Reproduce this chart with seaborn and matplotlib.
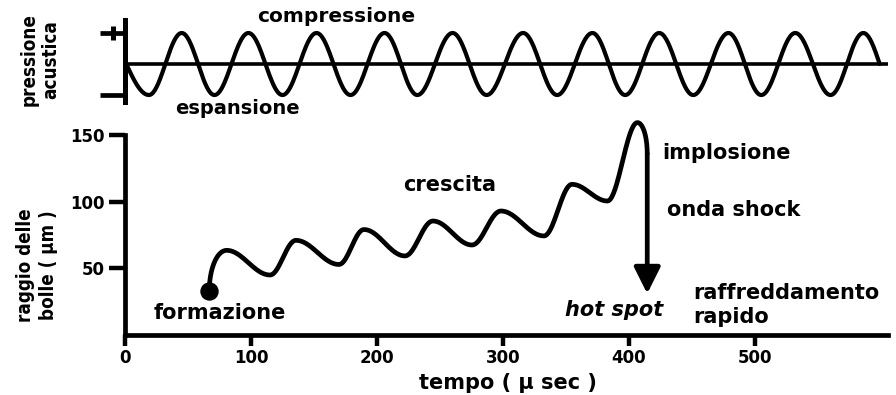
import numpy as np
import pandas as pd
import matplotlib
matplotlib.use("Agg")
import matplotlib.pyplot as plt
import seaborn as sns
from matplotlib import font_manager

# ---------------- data ----------------
# acoustic pressure: times (µs) of the compression peaks and expansion troughs
pressure_start_t = 1
pressure_end_t = 599
pressure_peak_t = [45, 98, 152, 206, 260, 316, 371, 424, 479, 532, 586]
pressure_trough_t = [19, 71, 125, 179, 232, 287, 343, 397, 451, 505, 560]
pressure_amp = 1.0

# bubble radius: turning points of the curve (time µs, radius µm)
radius_t = [66.9, 80.7, 115.1, 135.7, 169.8, 189.7, 222.2, 244.4, 275.4, 298.4,
            332.5, 354.8, 382.9, 406.7, 414.5]
radius_um = [33.0, 63.5, 45.0, 71.0, 52.9, 79.1, 59.3, 85.5, 67.5, 93.0,
             74.3, 113.0, 100.5, 159.3, 136.0]
collapse_end_um = 31.0          # tip of the implosion arrow

x_ticks = [0, 100, 200, 300, 400, 500]
y_ticks = [50, 100, 150]
x_label = "tempo ( µ sec )"
y_label = "raggio delle\nbolle ( µm )"
top_label = "pressione\nacustica"


# ---------------- smooth rendering of the key points ----------------
def smooth_path(ts, vs, kinds, n=40):
    """Join successive key points with smooth (cosine) curve pieces."""
    out_t, out_v = [], []
    s = np.linspace(0, 1, n)
    for i in range(len(ts) - 1):
        t0, t1, v0, v1 = ts[i], ts[i + 1], vs[i], vs[i + 1]
        k = kinds[i]
        if k == "ext":        # extremum -> extremum
            ft, fv = s, (1 - np.cos(np.pi * s)) / 2
        elif k == "zero_in":  # zero crossing -> extremum
            ft, fv = s, np.sin(np.pi * s / 2)
        elif k == "zero_out":  # extremum -> zero crossing
            ft, fv = s, 1 - np.cos(np.pi * s / 2)
        elif k == "rise":     # vertical start -> horizontal end
            ft, fv = 1 - np.cos(np.pi * s / 2), np.sin(np.pi * s / 2)
        else:                 # "fall": horizontal start -> vertical end
            ft, fv = np.sin(np.pi * s / 2), 1 - np.cos(np.pi * s / 2)
        out_t.extend(t0 + (t1 - t0) * ft)
        out_v.extend(v0 + (v1 - v0) * fv)
    return out_t, out_v


# pressure key points in time order
p_pts = sorted([(t, pressure_amp) for t in pressure_peak_t] +
               [(t, -pressure_amp) for t in pressure_trough_t])
p_t = [pressure_start_t] + [p[0] for p in p_pts] + [pressure_end_t]
p_v = [0.0] + [p[1] for p in p_pts] + [0.0]
p_kinds = ["zero_in"] + ["ext"] * (len(p_pts) - 1) + ["zero_out"]
pt, pv = smooth_path(p_t, p_v, p_kinds)
df_p = pd.DataFrame({"t": pt, "p": pv})

r_kinds = ["rise"] + ["ext"] * (len(radius_t) - 3) + ["fall"]
rt, rv = smooth_path(radius_t, radius_um, r_kinds)
df_r = pd.DataFrame({"t": rt, "r": rv})
df_start = pd.DataFrame({"t": [radius_t[0]], "r": [radius_um[0]]})

# ---------------- figure ----------------
sns.set_theme(style="white")
plt.rcParams["font.family"] = ["DejaVu Sans"]

# condensed bold face for the vertical labels, if one is installed
names = {f.name for f in font_manager.fontManager.ttflist}
if "Liberation Sans Narrow" in names:
    narrow_kw = dict(family=["Liberation Sans Narrow", "DejaVu Sans"], fontsize=15)
elif any(f.name == "DejaVu Sans" and f.stretch == "condensed"
         for f in font_manager.fontManager.ttflist):
    narrow_kw = dict(family=["DejaVu Sans"], fontstretch="condensed", fontsize=13.5)
else:
    narrow_kw = dict(family=["Liberation Sans", "DejaVu Sans"], fontsize=14)

W, H = 896, 395
fig = plt.figure(figsize=(W / 100, H / 100), dpi=100)
fig.patch.set_facecolor("white")

XMAX = 605.6
ax_top = fig.add_axes([125 / W, 1 - 104 / H, 763 / W, 86 / H])
ax = fig.add_axes([125 / W, 1 - 335 / H, 763 / W, 216 / H])

# ---- top panel: acoustic pressure ----
sns.lineplot(data=df_p, x="t", y="p", sort=False, estimator=None,
             color="black", lw=3.0, ax=ax_top)
ax_top.axhline(0, color="black", lw=2.6)
ax_top.set_xlim(0, XMAX)
ax_top.set_ylim(-1.29, 1.484)
for sp in ["top", "right", "bottom"]:
    ax_top.spines[sp].set_visible(False)
ax_top.spines["left"].set_bounds(-1.23, 1.42)
ax_top.spines["left"].set_linewidth(3.6)
ax_top.spines["left"].set_color("black")
ax_top.set_xticks([])
ax_top.set_yticks([-1, 1])
ax_top.set_yticklabels(["", ""])
ax_top.tick_params(axis="y", direction="out", length=18, width=3.4,
                   color="black", left=True)
ax_top.plot([-12 / 763], [1], transform=ax_top.get_yaxis_transform(),
            marker="|", markersize=10, mew=3.6, color="black", clip_on=False)
ax_top.set_xlabel("")
ax_top.set_ylabel("")

# ---- bottom panel: bubble radius ----
sns.lineplot(data=df_r, x="t", y="r", sort=False, estimator=None,
             color="black", lw=3.4, ax=ax)
sns.scatterplot(data=df_start, x="t", y="r", color="black", s=150,
                edgecolor="black", ax=ax, zorder=5)
ax.annotate("", xy=(radius_t[-1], collapse_end_um),
            xytext=(radius_t[-1], radius_um[-1]),
            arrowprops=dict(arrowstyle="-|>,head_length=1.0,head_width=0.5",
                            lw=3.4, color="black", mutation_scale=16,
                            shrinkA=0, shrinkB=0))
ax.set_xlim(0, XMAX)
ax.set_ylim(0, 162)
for sp in ["top", "right"]:
    ax.spines[sp].set_visible(False)
for sp in ["left", "bottom"]:
    ax.spines[sp].set_linewidth(3.4)
    ax.spines[sp].set_color("black")
ax.spines["left"].set_bounds(0, 150)
ax.set_xticks(x_ticks)
ax.set_yticks(y_ticks)
ax.set_xticklabels([str(v) for v in x_ticks], fontsize=12, fontweight="bold",
                   color="black")
ax.set_yticklabels([str(v) for v in y_ticks], fontsize=12, fontweight="bold",
                   color="black")
ax.tick_params(axis="x", direction="out", length=8, width=3.2, pad=2,
               color="black", bottom=True)
ax.tick_params(axis="y", direction="out", length=11.5, width=3.2, pad=3,
               color="black", left=True)
ax.set_xlabel("")
ax.set_ylabel("")


# ---- texts ----
def ftxt(x, y, s, **kw):
    kw.setdefault("fontsize", 15)
    kw.setdefault("fontweight", "bold")
    kw.setdefault("va", "center")
    kw.setdefault("color", "black")
    fig.text(x / W, 1 - y / H, s, **kw)


ftxt(336, 16, "compressione", ha="center", fontsize=14.5)
ftxt(237, 108, "espansione", ha="center", fontsize=14)
ftxt(450, 185, "crescita", ha="center")
ftxt(220, 313, "formazione", ha="center")
ftxt(662, 153, "implosione", ha="left")
ftxt(667, 210, "onda shock", ha="left")
ftxt(614, 310, "hot spot", ha="center", style="italic")
ftxt(693, 293, "raffreddamento", ha="left")
ftxt(693, 317, "rapido", ha="left")
ftxt(508, 383, x_label, ha="center", fontsize=15)

ftxt(40, 60, top_label, ha="center", rotation=90, linespacing=1.15,
     multialignment="center", **narrow_kw)
ftxt(37, 265, y_label, ha="center", rotation=90, linespacing=1.25,
     multialignment="center", **narrow_kw)

fig.savefig("out.png", dpi=100, facecolor="white")
